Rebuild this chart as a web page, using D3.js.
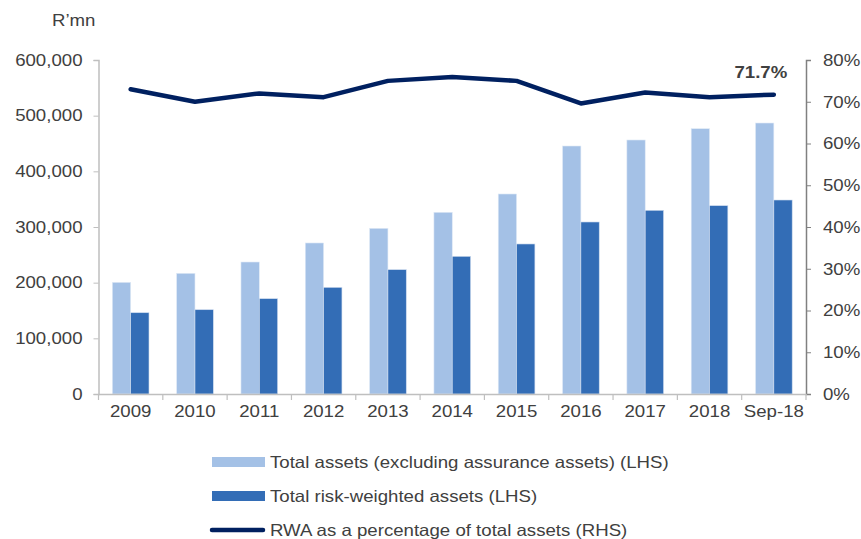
<!DOCTYPE html>
<html>
<head>
<meta charset="utf-8">
<script src="https://cdn.jsdelivr.net/npm/d3@7"></script>
<style>
  body { margin: 0; background: #fff; }
  svg text { font-family: "Liberation Sans", Arial, sans-serif; fill: #404040; }
</style>
</head>
<body>
<div id="chart"></div>
<script>
// categories and values
var categories = ["2009", "2010", "2011", "2012", "2013", "2014", "2015", "2016", "2017", "2018", "Sep-18"];
var totalAssets = [200600, 216800, 237100, 271300, 297600, 326400, 359300, 445500, 456300, 476600, 486800];
var rwaAssets = [146000, 151400, 171200, 191600, 223300, 247300, 269500, 309000, 330000, 338300, 348500];
var rwaPct = [73.0, 70.0, 72.0, 71.1, 75.0, 75.9, 75.0, 69.6, 72.2, 71.1, 71.7];
var leftTicks = [0, 100000, 200000, 300000, 400000, 500000, 600000];
var rightTicks = [0, 10, 20, 30, 40, 50, 60, 70, 80];
var legendLabels = ["Total assets (excluding assurance assets) (LHS)",
                    "Total risk-weighted assets (LHS)",
                    "RWA as a percentage of total assets (RHS)"];

var W = 861, H = 539;
var margin = { top: 60, right: 55, bottom: 145, left: 98.5 };
var width = W - margin.left - margin.right;
var height = H - margin.top - margin.bottom;

var colLight = "#A4C1E6", colDark = "#336DB6", colLine = "#002060";
var fs = "16.5px";
var sx = 1.13; // text in the reference is a bit wider than plain Arial

// stretch text horizontally around its own x anchor
function stretch(sel) {
    sel.each(function () {
        var t = d3.select(this);
        var ax = +t.attr("x") || 0;
        t.attr("transform", "translate(" + ax + ",0) scale(" + sx + ",1) translate(" + (-ax) + ",0)");
    });
}

var svg = d3.select("#chart").append("svg")
    .attr("width", W).attr("height", H);

var g = svg.append("g")
    .attr("transform", "translate(" + margin.left + "," + margin.top + ")");

var x = d3.scaleBand().domain(categories).range([0, width]).paddingInner(0).paddingOuter(0);
var x1 = d3.scaleBand().domain(["a", "b"]).range([x.bandwidth() * 0.215, x.bandwidth() * 0.785]);
var yL = d3.scaleLinear().domain([0, 600000]).range([height, 0]);
var yR = d3.scaleLinear().domain([0, 80]).range([height, 0]);

// bars
var groups = g.selectAll(".grp")
    .data(categories)
    .enter().append("g")
    .attr("transform", function (d) { return "translate(" + x(d) + ",0)"; });

groups.append("rect")
    .attr("x", x1("a"))
    .attr("width", x1.bandwidth())
    .attr("y", function (d, i) { return yL(totalAssets[i]); })
    .attr("height", function (d, i) { return height - yL(totalAssets[i]); })
    .attr("fill", colLight)
    .attr("stroke", "#dfe9f6").attr("stroke-width", 0.6);

groups.append("rect")
    .attr("x", x1("b"))
    .attr("width", x1.bandwidth())
    .attr("y", function (d, i) { return yL(rwaAssets[i]); })
    .attr("height", function (d, i) { return height - yL(rwaAssets[i]); })
    .attr("fill", colDark)
    .attr("stroke", "#cfdcef").attr("stroke-width", 0.6);

// left axis
var axL = g.append("g")
    .call(d3.axisLeft(yL).tickValues(leftTicks).tickSize(5).tickPadding(11).tickFormat(d3.format(",")));
axL.select(".domain").attr("stroke", "#BFBFBF").attr("stroke-width", 1.5);
axL.selectAll(".tick line").attr("stroke", "#BFBFBF");
axL.selectAll("text").style("font-size", fs).attr("fill", "#404040").call(stretch);

// right axis
var axR = g.append("g")
    .attr("transform", "translate(" + width + ",0)")
    .call(d3.axisRight(yR).tickValues(rightTicks).tickSize(5).tickPadding(12).tickFormat(function (d) { return d + "%"; }));
axR.select(".domain").attr("stroke", "#808080").attr("stroke-width", 1.5);
axR.selectAll(".tick line").attr("stroke", "#808080");
axR.selectAll("text").style("font-size", fs).attr("fill", "#404040").call(stretch);

// bottom axis, ticks between categories
var axB = g.append("g")
    .attr("transform", "translate(0," + height + ")")
    .call(d3.axisBottom(x).tickSize(0).tickPadding(11));
axB.select(".domain").attr("stroke", "#BFBFBF").attr("stroke-width", 1.5);
axB.selectAll("text").style("font-size", fs).attr("fill", "#404040").call(stretch);
axB.selectAll(".sep")
    .data(categories.concat(["end"]))
    .enter().append("line")
    .attr("x1", function (d, i) { return i * x.bandwidth(); })
    .attr("x2", function (d, i) { return i * x.bandwidth(); })
    .attr("y1", 0).attr("y2", 6)
    .attr("stroke", "#BFBFBF").attr("stroke-width", 1.2);

// line
var line = d3.line()
    .x(function (d, i) { return x(categories[i]) + x.bandwidth() / 2; })
    .y(function (d) { return yR(d); });

g.append("path")
    .datum(rwaPct)
    .attr("d", line)
    .attr("fill", "none")
    .attr("stroke", colLine)
    .attr("stroke-width", 4.5)
    .attr("stroke-linejoin", "round")
    .attr("stroke-linecap", "round");

// label at the last point
var last = rwaPct.length - 1;
g.append("text")
    .attr("x", x(categories[last]) + x.bandwidth() / 2 - 13)
    .attr("y", yR(rwaPct[last]) - 17)
    .attr("text-anchor", "middle")
    .style("font-size", fs)
    .style("font-weight", "bold")
    .text(rwaPct[last].toFixed(1) + "%")
    .call(stretch);

// unit label
svg.append("text")
    .attr("x", 52).attr("y", 26)
    .style("font-size", fs)
    .text("R\u2019mn")
    .call(stretch);

// legend
var legend = svg.append("g").attr("transform", "translate(212,462)");
legendLabels.forEach(function (lab, i) {
    var row = legend.append("g").attr("transform", "translate(0," + (i * 34) + ")");
    if (i < 2) {
        row.append("rect")
            .attr("x", 0).attr("y", -5).attr("width", 53).attr("height", 10)
            .attr("fill", i === 0 ? colLight : colDark);
    } else {
        row.append("line")
            .attr("x1", 0).attr("x2", 51).attr("y1", 0).attr("y2", 0)
            .attr("stroke", colLine).attr("stroke-width", 4.5).attr("stroke-linecap", "round");
    }
    row.append("text")
        .attr("x", 58).attr("y", 6)
        .style("font-size", fs)
        .text(lab)
        .call(stretch);
});
</script>
</body>
</html>
